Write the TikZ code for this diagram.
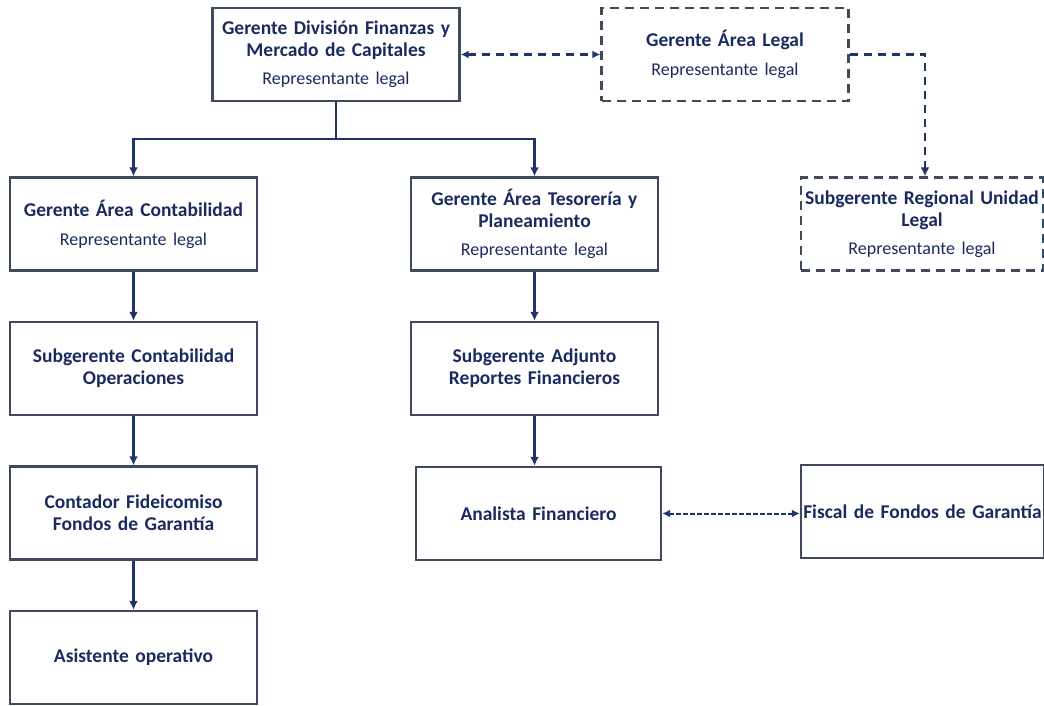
\documentclass[tikz,border=0pt]{standalone}
\usepackage{fontspec}
\setmainfont{Carlito}
\usetikzlibrary{arrows.meta}
\definecolor{boxline}{HTML}{3F4A5C}
\definecolor{navytxt}{HTML}{1B2A5E}
\definecolor{conn}{HTML}{1F3468}
\tikzset{
  orgbox/.style={draw=boxline, line width=2.4pt, minimum width=247pt, minimum height=93pt,
    text width=242pt, align=center, inner sep=0pt, text=navytxt, font=\fontsize{19.5}{22}\selectfont},
  dashbox/.style={orgbox, dash pattern=on 9pt off 6pt},
  link/.style={draw=conn, line width=2.2pt, -{Latex[length=9pt,width=9pt]}},
  dlink/.style={draw=conn, line width=2.2pt, dash pattern=on 8pt off 6pt, {Latex[length=8pt,width=8pt]}-{Latex[length=8pt,width=8pt]}},
  dlinkfine/.style={draw=conn, line width=2pt, dash pattern=on 4.5pt off 2.5pt, {Latex[length=8pt,width=8pt]}-{Latex[length=8pt,width=8pt]}},
}
\newcommand{\bt}[1]{\textbf{#1}}
\newcommand{\rl}{{\fontsize{18}{22}\selectfont Representante legal}}
\begin{document}
\begin{tikzpicture}[x=1pt,y=-1pt]
\useasboundingbox (0,0) rectangle (1044,705);
\node[orgbox] (top) at (336,54.5) {\bt{Gerente División Finanzas y}\\\bt{Mercado de Capitales}\\[6pt]\rl};
\node[dashbox] (legal) at (725,54.5) {\bt{Gerente Área Legal}\\[7pt]\rl};
\node[orgbox] (cont) at (133.5,224) {\bt{Gerente Área Contabilidad}\\[7pt]\rl};
\node[orgbox] (teso) at (534.5,224) {\bt{Gerente Área Tesorería y}\\\bt{Planeamiento}\\[6pt]\rl};
\node[dashbox, minimum width=242pt] (subreg) at (922,224) {\bt{Subgerente Regional Unidad}\\\bt{Legal}\\[6pt]\rl};
\node[orgbox] (subcont) at (133.5,368.5) {\bt{Subgerente Contabilidad}\\\bt{Operaciones}};
\node[orgbox] (subadj) at (534.5,368.5) {\bt{Subgerente Adjunto}\\\bt{Reportes Financieros}};
\node[orgbox] (contador) at (133.5,513) {\bt{Contador Fideicomiso}\\\bt{Fondos de Garantía}};
\node[orgbox, minimum width=245pt] (analista) at (538.5,513.5) {\bt{Analista Financiero}};
\node[orgbox, minimum width=243pt] (fiscal) at (922.5,511.5) {\bt{Fiscal de Fondos de Garantía}};
\node[orgbox] (asist) at (133.5,657.5) {\bt{Asistente operativo}};
\coordinate (j) at ([yshift=-37pt]top.south);
\draw[draw=conn, line width=2.2pt] (top.south) -- (j);
\draw[link] (j) -| (cont.north);
\draw[link] (j) -| (teso.north);
\draw[link] (cont.south) -- (subcont.north);
\draw[link] (subcont.south) -- (contador.north);
\draw[link] (contador.south) -- (asist.north);
\draw[link] (teso.south) -- (subadj.north);
\draw[link] (subadj.south) -- (subadj.south |- analista.north);
\draw[dlink] (top.east) -- (legal.west);
\draw[draw=conn, line width=2.2pt, dash pattern=on 8pt off 6pt, -{Latex[length=9pt,width=9pt]}] (legal.east) -| ([xshift=3pt]subreg.north);
\draw[dlinkfine] (analista.east) -- (analista.east -| fiscal.west);
\end{tikzpicture}
\end{document}
